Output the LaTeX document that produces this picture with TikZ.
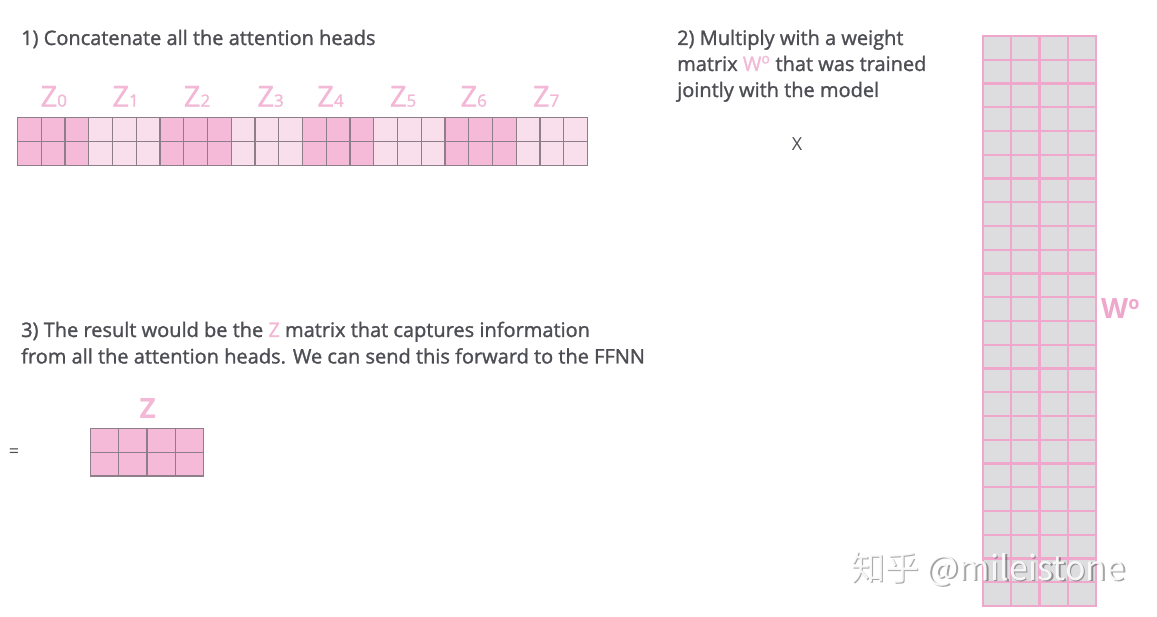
\documentclass[tikz,border=0pt]{standalone}
\usepackage{fontspec}
\setmainfont{Open Sans}
\newfontfamily\heavyfont[FakeBold=1.3]{Open Sans}
\newfontfamily\cjkfont{Noto Sans CJK SC}
\usetikzlibrary{positioning}

\definecolor{txtgray}{HTML}{4D4E53}
\definecolor{headdark}{HTML}{F4BAD8}
\definecolor{headlight}{HTML}{F9DEEC}
\definecolor{gridgray}{HTML}{8E7E89}
\definecolor{wfill}{HTML}{DDDDDF}
\definecolor{wline}{HTML}{F0A7CC}
\definecolor{zpink}{HTML}{F2B8D6}

\newcommand\headsub[1]{{\fontsize{17}{17}\selectfont#1}}
\newcommand\pinkW{\textcolor{zpink}{W\textsuperscript{o}}}

\tikzset{
  caption/.style={anchor=base west, inner sep=0pt, text=txtgray,
    font=\heavyfont\fontsize{20}{22}\selectfont},
  headlabel/.style={anchor=base west, inner sep=0pt, text=zpink,
    font=\heavyfont\fontsize{29}{29}\selectfont},
  headcell/.style={draw=gridgray, line width=1.1pt},
  wcell/.style={draw=wline, fill=wfill, line width=2.2pt},
  wm/.style={anchor=west, inner sep=0pt, font=\cjkfont\fontsize{34}{34}\selectfont},
}

\begin{document}
\begin{tikzpicture}[x=1pt,y=-1pt]
  \useasboundingbox[fill=white] (0,0) rectangle (1157,617);

  % step 1: the eight heads side by side
  \node[caption] (step1) at (21,45) {1) Concatenate all the attention heads};
  \foreach \c in {0,...,23} {
    \pgfmathtruncatemacro\grp{mod(int(\c/3),2)}
    \ifnum\grp=0 \def\cellcol{headdark}\else\def\cellcol{headlight}\fi
    \foreach \r in {0,1}
      \draw[headcell, fill=\cellcol] ({17.5+23.75*\c},{117.5+24*\r}) rectangle ++(23.75,24);
  }
  \foreach \x/\i in {40.5/0,112.3/1,183.7/2,257.3/3,317.2/4,389.8/5,460.4/6,532.9/7}
    \node[headlabel] (z\i) at (\x,106.7) {Z\headsub{\i}};

  % step 2: the weight matrix
  \node[caption] (step2a) at (677,45) {2) Multiply with a weight};
  \node[caption] (step2b) at ([yshift=-26pt]step2a.base west) {matrix \pinkW{} that was trained};
  \node[caption] (step2c) at ([yshift=-26pt]step2b.base west) {jointly with the model};
  \node[text=txtgray, font=\fontsize{18}{18}\selectfont] (times) at (797,143.7) {X};
  \foreach \c in {0,...,3}
    \foreach \r in {0,...,23}
      \draw[wcell] ({983+28.25*\c},{36+23.75*\r}) rectangle ++(28.25,23.75);
  \node[anchor=base west, inner sep=0pt, text=wline, font=\bfseries\fontsize{28}{28}\selectfont]
    (wlabel) at (1101,319) {W\raisebox{9pt}{\fontsize{18}{18}\selectfont o}};

  % step 3: the result
  \node[caption] (step3a) at (21,337) {3) The result would be the \textcolor{zpink}{Z} matrix that captures information};
  \node[caption] (step3b) at ([yshift=-26.5pt]step3a.base west) {from all the attention heads. We can send this forward to the FFNN};
  \node[text=txtgray, font=\fontsize{18}{18}\selectfont] (equals) at (14,453) {=};
  \foreach \c in {0,...,3}
    \foreach \r in {0,1}
      \draw[headcell, fill=headdark] ({90.5+28.25*\c},{428.5+23.75*\r}) rectangle ++(28.25,23.75);
  \node[anchor=base, inner sep=0pt, text=zpink, font=\bfseries\fontsize{28}{28}\selectfont]
    (zlabel) at (147.7,418.3) {Z};

  % watermark
  \node[wm, text=black, opacity=0.35] (wmshade) at (852.5,570.5) {知乎 @mileistone};
  \node[wm, text=white, opacity=0.9] (wmtext) at (851,569) {知乎 @mileistone};
\end{tikzpicture}
\end{document}
